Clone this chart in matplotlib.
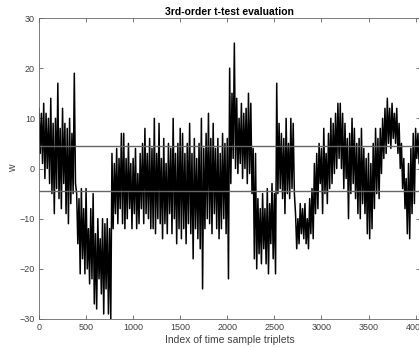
import numpy as np
import matplotlib
matplotlib.use('Agg')
import matplotlib.pyplot as plt

plt.rcParams['font.family'] = ['Liberation Sans', 'DejaVu Sans']

# 每 25 个样本读取一次局部峰值 / 谷值
step = 25
peaks = [
    12, 11, 13, 11, 10, 14, 9, 10, 17, 8, 12, 9, 8, 10, 7, 19,
    -5, -6, -4, -8, -4, -12, -8, -5, -13, -10, -14, -10, -11, -10, -12, 3,
    1, 4, 2, 7, 7, 2, 5, 1, 2, 4, -1, 3, 5, 8, 3, 6,
    4, 10, 3, 9, 2, 6, 1, 5, 4, 10, 3, 5, 8, 7, 3, 5,
    9, 3, 6, 2, 5, 10, 4, 7, 11, 6, 9, 4, 6, 3, 7, 5,
    6, 20, 15, 25, 14, 10, 13, 11, 12, 15, 13, 4, 3, -6, -8, -5,
    -8, -4, -7, -3, -5, 17, 9, 7, 6, 10, 5, 10, 9, -9, -10, -7,
    -8, -7, -10, -6, -4, 1, 3, 5, 4, 8, 3, 7, 10, 9, 11, 13,
    13, 11, 9, 6, 7, 10, 8, 5, 6, 8, 4, 2, 3, 1, 5, 8,
    6, 8, 10, 12, 14, 12, 13, 11, 12, 9, 5, 2, -2, 1, 4, 7,
    8, 7,
]
troughs = [
    3, 1, -2, 0, -3, -5, -9, -4, -6, -8, -3, -9, -11, -7, -5, -3,
    -15, -21, -18, -21, -20, -23, -22, -27, -28, -22, -25, -29, -24, -29, -30, -12,
    -9, -11, -8, -11, -12, -10, -8, -12, -9, -12, -11, -8, -11, -9, -10, -12,
    -12, -13, -10, -11, -14, -11, -13, -9, -13, -10, -15, -12, -14, -12, -15, -11,
    -13, -18, -12, -14, -16, -24, -12, -10, -11, -13, -9, -12, -14, -12, -10, -13,
    -22, -3, 2, 0, -1, 1, -2, 0, -3, -1, -5, -18, -20, -17, -19, -16,
    -19, -21, -15, -18, -21, -5, -4, -6, -9, -5, -6, -4, -5, -16, -15, -13,
    -14, -15, -16, -13, -14, -9, -8, -3, -9, -5, -7, -4, -3, -1, 0, 2,
    0, -4, -2, -10, -5, -3, -6, -9, -10, -7, -9, -13, -14, -12, -8, -5,
    -6, -1, 2, 3, 5, 4, 6, 5, 3, 0, -4, -8, -13, -14, -9, -7,
    2, 1,
]
threshold = 4.5

# 峰谷交替组成曲线
w = np.empty(2 * len(peaks))
w[0::2] = peaks
w[1::2] = troughs
idx = np.arange(len(w)) * step / 2

fig = plt.figure(figsize=(4.19, 3.47), dpi=100)
ax = fig.add_axes([39 / 419, 28 / 347, 381 / 419, 301 / 347])

ax.plot(idx, w, color='black', lw=1.1)
ax.axhline(threshold, color='0.4', lw=1.0)
ax.axhline(-threshold, color='0.4', lw=1.0)

ax.set_xlim(0, 4047)
ax.set_ylim(-30, 30)
ax.set_xticks(np.arange(0, 4001, 500))
ax.set_yticks(np.arange(-30, 31, 10))
ax.tick_params(direction='in', length=3, width=0.5, top=True, right=True,
               labelsize=6.5, colors='0.25', pad=3)
for s in ax.spines.values():
    s.set_linewidth(0.6)
    s.set_color('0.4')

ax.set_title('3rd-order t-test evaluation', fontsize=7.5, fontweight='bold', pad=2)
ax.set_xlabel('Index of time sample triplets', fontsize=7.5, color='0.25', labelpad=2)
ax.set_ylabel('w', fontsize=7.5, color='0.25')
ax.yaxis.set_label_coords(-0.055, 0.5)

plt.savefig('out.png', dpi=100)
